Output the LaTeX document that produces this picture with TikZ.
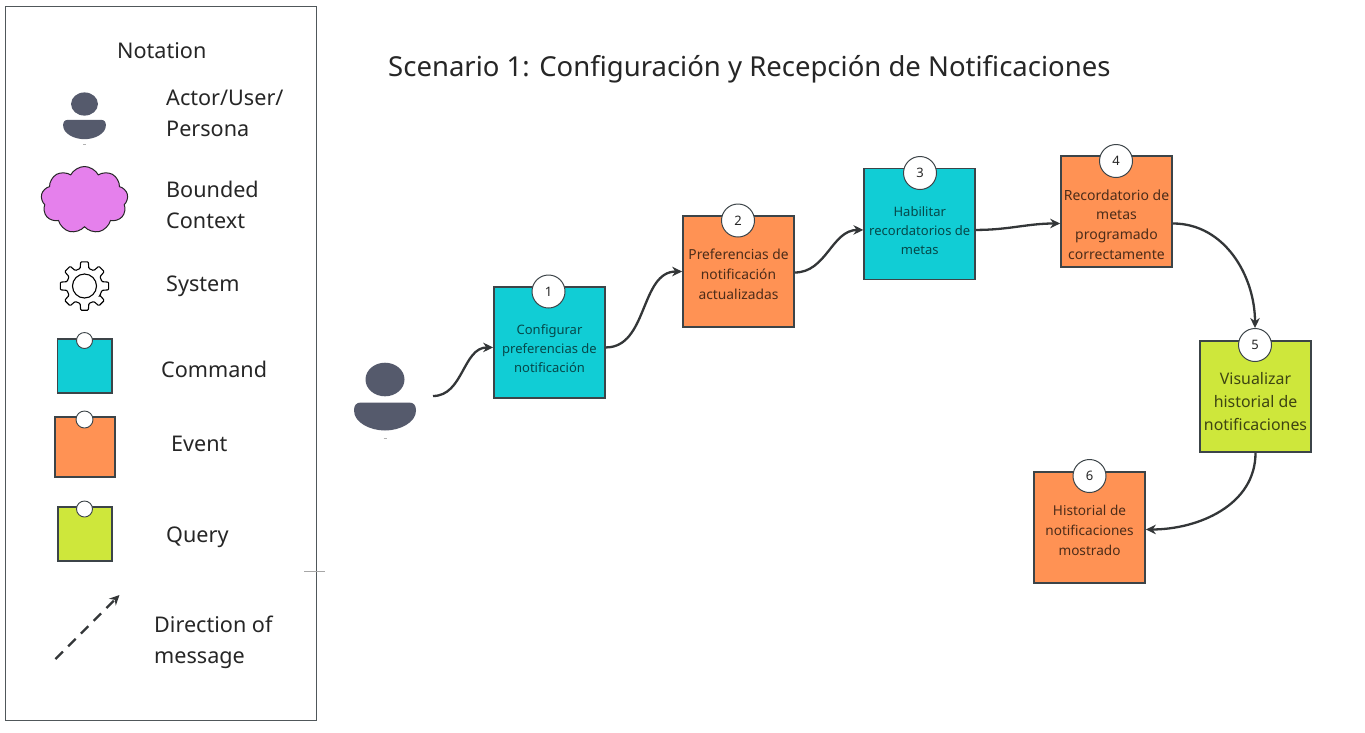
\documentclass[tikz,border=0pt]{standalone}
\usepackage{fontspec}
\setmainfont{Noto Sans}
\usetikzlibrary{shapes.symbols,arrows.meta}
\definecolor{cmdcyan}{HTML}{11CDD5}
\definecolor{evtorange}{HTML}{FF9254}
\definecolor{qrylime}{HTML}{CEE73B}
\definecolor{cloudpink}{HTML}{E580EC}
\definecolor{edgedark}{HTML}{3C4448}
\definecolor{flowdark}{HTML}{333638}
\definecolor{actorgrey}{HTML}{555A6C}
\definecolor{inkdark}{HTML}{262626}
\tikzset{
	personicon/.pic={
		\fill[actorgrey] (0,0) ellipse (19.5 and 16.8);
		\fill[actorgrey] (-24,-23) -- (24,-23) .. controls (29,-23) and (31,-26) .. (31,-31) .. controls (31,-43) and (15,-51) .. (0,-51) .. controls (-15,-51) and (-31,-43) .. (-31,-31) .. controls (-31,-26) and (-29,-23) .. (-24,-23) -- cycle;
		\draw[black!30,line width=.6pt] (-1.5,-59) -- (1.5,-59);
	}
}
\begin{document}
\begin{tikzpicture}[x=1pt,y=1pt,
	sticky/.style={draw=edgedark,line width=1.7pt,minimum width=111pt,minimum height=111pt,inner sep=0pt},
	badge/.style={circle,draw=edgedark,fill=white,line width=1pt,minimum size=33pt,inner sep=0pt,font=\fontsize{13}{15}\selectfont,text=inkdark},
	smallbadge/.style={circle,draw=edgedark,fill=white,line width=.9pt,minimum size=16pt,inner sep=0pt},
	legendtext/.style={anchor=west,align=left,inner sep=0pt,text=inkdark,font=\fontsize{21.6}{31}\selectfont},
	flow/.style={draw=flowdark,line width=2.3pt,-{Stealth[length=10pt,width=9.5pt]}}]
	\useasboundingbox (0,0) rectangle (1365,-732);
	\fill[white] (0,0) rectangle (1365,-732);
	% notation panel
	\draw[edgedark!90,line width=.9pt] (5,-6) rectangle (316,-720);
	\draw[black!35,line width=.6pt] (304,-571) -- (325,-571);
	\node[legendtext] (notationtitle) at (117,-51) {Notation};
	\pic[scale=.69] at (84.5,-104) {personicon};
	\node[legendtext] (actortext) at (166,-113.5) {Actor/User/\\Persona};
	\node[cloud,cloud puffs=9,cloud puff arc=125,aspect=1.3,draw=black!85,fill=cloudpink,line width=1pt,minimum width=87pt,minimum height=67pt,inner sep=0pt] (ctxcloud) at (84.5,-200) {};
	\node[legendtext] (ctxtext) at (166,-205) {Bounded\\Context};
	\begin{scope}[shift={(84.5,-286)}]
		\draw[black,line width=1.1pt,rounded corners=1pt] (-32:18) \foreach \a in {0,45,...,315} { -- ({\a-14}:18) -- ({\a-9}:24.5) -- ({\a+9}:24.5) -- ({\a+14}:18) } -- cycle;
		\draw[black,line width=1.1pt] (0,0) circle (12);
	\end{scope}
	\node[legendtext] (systext) at (166,-286) {System};
	\node[sticky,fill=cmdcyan,minimum width=54.5pt,minimum height=54pt] (cmdkey) at (84.75,-366) {};
	\node[smallbadge] (cmddot) at (84.5,-340.5) {};
	\node[legendtext] (cmdtext) at (161,-369) {Command};
	\node[sticky,fill=evtorange,minimum width=60pt,minimum height=60pt] (evtkey) at (85,-447) {};
	\node[smallbadge,minimum size=17pt] (evtdot) at (84.5,-419.5) {};
	\node[legendtext] (evttext) at (171,-444) {Event};
	\node[sticky,fill=qrylime,minimum width=54pt,minimum height=54pt] (qrykey) at (85,-534) {};
	\node[smallbadge] (qrydot) at (84.5,-509) {};
	\node[legendtext] (qrytext) at (166,-537) {Query};
	\coordinate (dashfrom) at (55.5,-659);
	\coordinate (dashto) at (119.5,-595);
	\draw[flowdark,line width=2.2pt,dash pattern=on 10.5pt off 7.5pt,-{Stealth[length=10pt,width=9.5pt]}] (dashfrom) -- (dashto);
	\node[legendtext] (dirtext) at (154,-642) {Direction of\\message};
	% scenario
	\node[anchor=west,inner sep=0pt,text=inkdark,font=\fontsize{27.5}{32}\selectfont] (scentitle) at (388,-69) {Scenario 1: Configuración y Recepción de Notificaciones};
	\pic at (385,-379.5) {personicon};
	\coordinate (actorout) at (433,-396);
	\node[sticky,fill=cmdcyan] (stepone) at (549.5,-342.5) {};
	\node[sticky,fill=evtorange] (steptwo) at (738.5,-271.5) {};
	\node[sticky,fill=cmdcyan] (stepthree) at (919.75,-224) {};
	\node[sticky,fill=evtorange] (stepfour) at (1116.5,-211.5) {};
	\node[sticky,fill=qrylime] (stepfive) at (1255.5,-396.5) {};
	\node[sticky,fill=evtorange] (stepsix) at (1089.5,-527.5) {};
	\node[badge] (numone) at (548.5,-291.5) {1};
	\node[badge] (numtwo) at (738,-220.5) {2};
	\node[badge] (numthree) at (920,-173) {3};
	\node[badge] (numfour) at (1116,-161) {4};
	\node[badge] (numfive) at (1255,-345) {5};
	\node[badge] (numsix) at (1089.5,-476) {6};
	\node[align=center,text=cmdcyan!35!black,font=\fontsize{13}{19}\selectfont] (textone) at (549.5,-348.5) {Configurar\\preferencias de\\notificación};
	\node[align=center,text=evtorange!30!black,font=\fontsize{13.8}{20}\selectfont] (texttwo) at (738.5,-274) {Preferencias de\\notificación\\actualizadas};
	\node[align=center,text=cmdcyan!35!black,font=\fontsize{13}{19}\selectfont] (textthree) at (919.75,-230.5) {Habilitar\\recordatorios de\\metas};
	\node[align=center,text=evtorange!30!black,font=\fontsize{14}{19.7}\selectfont] (textfour) at (1116.5,-224.5) {Recordatorio de\\metas\\programado\\correctamente};
	\node[align=center,text=qrylime!30!black,font=\fontsize{15.9}{22.8}\selectfont] (textfive) at (1255.5,-401.5) {Visualizar\\historial de\\notificaciones};
	\node[align=center,text=evtorange!30!black,font=\fontsize{13.6}{20}\selectfont] (textsix) at (1089.5,-530.5) {Historial de\\notificaciones\\mostrado};
	% connectors
	\draw[flow] (actorout) to[out=0,in=180] (stepone.185.7);
	\draw[flow] (stepone.-5.7) to[out=0,in=180] (steptwo.west);
	\draw[flow] (steptwo.-1.5) to[out=0,in=180] (stepthree.186);
	\draw[flow] (stepthree.-6) to[out=0,in=180] (stepfour.192.7);
	\draw[flow] (stepfour.-12.7) to[out=0,in=90] (numfive.north);
	\draw[flow] (stepfive.south) to[out=-90,in=0] (stepsix.-2.6);
\end{tikzpicture}
\end{document}
